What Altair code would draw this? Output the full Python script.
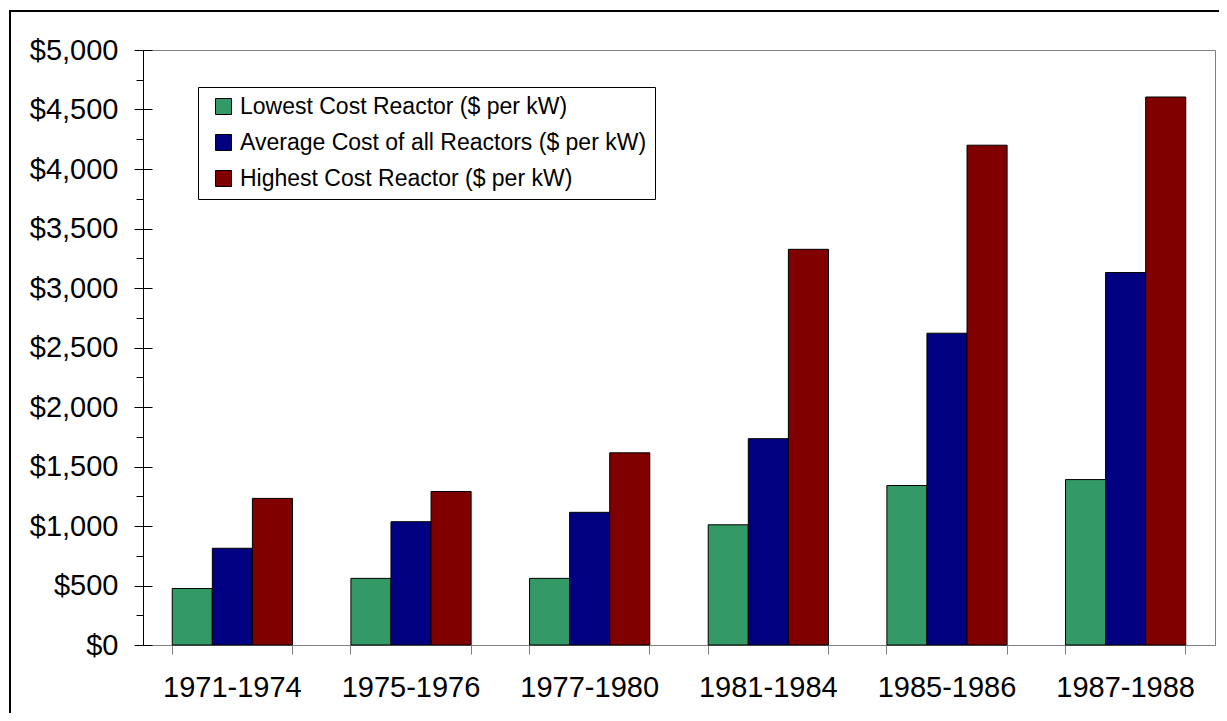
import altair as alt
import pandas as pd

categories = ["1971-1974", "1975-1976", "1977-1980", "1981-1984", "1985-1986", "1987-1988"]
series = [
    "Lowest Cost Reactor ($ per kW)",
    "Average Cost of all Reactors ($ per kW)",
    "Highest Cost Reactor ($ per kW)",
]
lowest = [475, 560, 560, 1010, 1340, 1390]
average = [813, 1036, 1115, 1734, 2620, 3130]
highest = [1232, 1290, 1615, 3325, 4200, 4605]
colors = ["#339966", "#000080", "#800000"]
y_ticks = list(range(0, 5001, 500))
y_minor = list(range(250, 5000, 500))

rows = []
for s, vals in zip(series, [lowest, average, highest]):
    for c, v in zip(categories, vals):
        rows.append({"period": c, "series": s, "cost": v})
df = pd.DataFrame(rows)

W, H = 1072, 595
FONT = "Liberation Sans"

xscale = alt.Scale(domain=categories, paddingInner=0.327, paddingOuter=0.1637)
yscale = alt.Scale(domain=[0, 5000], nice=False)

bars = alt.Chart(df).mark_bar(stroke="black", strokeWidth=1).encode(
    x=alt.X("period:N", scale=xscale, sort=categories,
            axis=alt.Axis(orient="bottom", title=None, labelAngle=0, ticks=False,
                          domain=True, domainColor="#808080", grid=False,
                          labelFontSize=29, labelFont=FONT, labelColor="black",
                          labelPadding=28)),
    xOffset=alt.XOffset("series:N", scale=alt.Scale(domain=series, paddingInner=0, paddingOuter=0)),
    y=alt.Y("cost:Q", scale=yscale,
            axis=alt.Axis(orient="left", title=None, values=y_ticks, format="$,.0f",
                          grid=False, domainColor="black", tickColor="black", tickSize=9,
                          labelFontSize=29, labelFont=FONT, labelColor="black",
                          labelPadding=16)),
    color=alt.Color("series:N", scale=alt.Scale(domain=series, range=colors),
                    legend=alt.Legend(title=None, orient="none", legendX=55, legendY=37,
                                      symbolType="square", symbolSize=256,
                                      symbolStrokeColor="black", symbolStrokeWidth=1,
                                      labelFontSize=23, labelFont=FONT, labelColor="black",
                                      labelOffset=5, padding=8, rowPadding=12,
                                      strokeColor="black", fillColor="white",
                                      symbolOffset=6, labelLimit=1000)),
)

ticks0 = alt.Chart(df).mark_point(opacity=0).encode(
    x=alt.X("period:N", scale=xscale, sort=categories,
            axis=alt.Axis(orient="bottom", title=None, labels=False, domain=False,
                          ticks=True, tickSize=9, tickColor="#808080", bandPosition=0,
                          grid=False)),
    y=alt.Y("cost:Q", scale=yscale,
            axis=alt.Axis(orient="left", title=None, values=y_minor, labels=False,
                          domain=False, tickSize=7, tickColor="black", grid=False)),
)

ticks1 = alt.Chart(df).mark_point(opacity=0).encode(
    x=alt.X("period:N", scale=xscale, sort=categories,
            axis=alt.Axis(orient="bottom", title=None, labels=False, domain=False,
                          ticks=True, tickSize=9, tickColor="#808080", bandPosition=1,
                          grid=False)),
    y=alt.Y("cost:Q", scale=yscale,
            axis=alt.Axis(orient="right", offset=-W, title=None, values=y_ticks,
                          labels=False, domain=False, tickSize=9, tickColor="black",
                          grid=False)),
)

frame = alt.Chart(pd.DataFrame({"k": [0]})).mark_rect(
    fillOpacity=0, stroke="black", strokeWidth=2
).encode(
    x=alt.value(-133), x2=alt.value(W + 300),
    y=alt.value(-39), y2=alt.value(H + 300),
)

chart = alt.layer(frame, bars, ticks0, ticks1).resolve_axis(
    x="independent", y="independent"
).properties(
    width=W, height=H,
    autosize=alt.AutoSizeParams(type="none"),
    padding={"left": 135, "top": 42, "right": 4, "bottom": 68},
    background="white",
).configure_view(stroke="#808080", strokeWidth=1)

chart.save("out.html", embed_options={"renderer": "svg", "actions": False})
